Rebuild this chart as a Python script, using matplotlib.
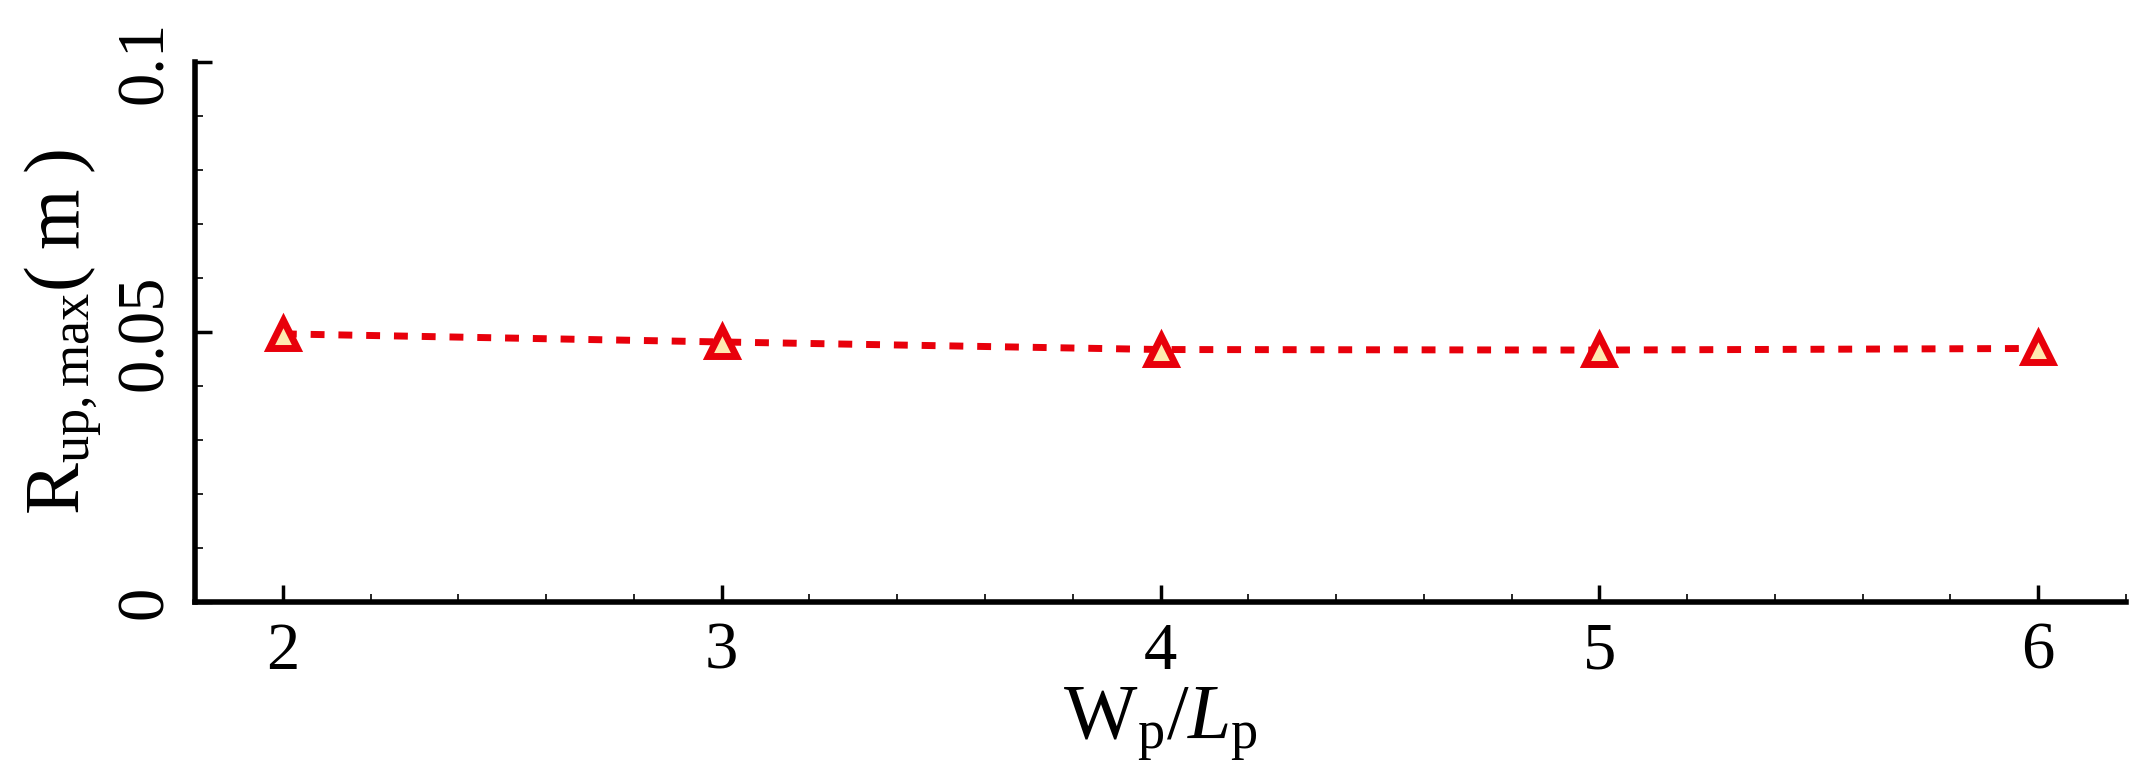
import matplotlib
matplotlib.use("Agg")
import matplotlib.pyplot as plt
from matplotlib.ticker import MultipleLocator

x_vals = [2, 3, 4, 5, 6]
r_up_max = [0.0497, 0.0482, 0.0468, 0.0467, 0.0470]

plt.rcParams['font.family'] = ['Liberation Serif', 'DejaVu Serif']
plt.rcParams['mathtext.fontset'] = 'custom'
plt.rcParams['mathtext.rm'] = 'Liberation Serif'
plt.rcParams['mathtext.it'] = 'Liberation Serif:italic'

fig = plt.figure(figsize=(21.44, 7.7), dpi=100)
ax = fig.add_axes([0.091, 0.218, 0.9006, 0.701])
ax.plot(x_vals, r_up_max, linestyle=(0, (2, 2)), color='#e8000b', linewidth=5,
        marker='^', markersize=20, markerfacecolor='#ffe9b0', markeredgecolor='#e8000b',
        markeredgewidth=5, dash_capstyle='butt')
ax.set_xlim(1.8, 6.2)
ax.set_ylim(0, 0.1)
ax.set_xticks(x_vals)
ax.set_yticks([0, 0.05, 0.1])
ax.set_yticklabels(['0', '0.05', '0.1'], rotation=90, va='center')
ax.xaxis.set_minor_locator(MultipleLocator(0.2))
ax.yaxis.set_minor_locator(MultipleLocator(0.01))
for s in ['top', 'right']:
    ax.spines[s].set_visible(False)
for s in ['left', 'bottom']:
    ax.spines[s].set_linewidth(4)
ax.tick_params(which='major', direction='in', length=12, width=2.5, labelsize=48, pad=14)
ax.tick_params(which='minor', direction='in', length=6, width=1.2)
ax.set_xlabel(r'$\mathrm{W_p}/L_\mathrm{p}$', fontsize=56, labelpad=2)
ax.set_ylabel(r'$\mathrm{R_{up,max}(\;m\;)}$', fontsize=56, labelpad=8)
fig.savefig('out.png', dpi=100)
